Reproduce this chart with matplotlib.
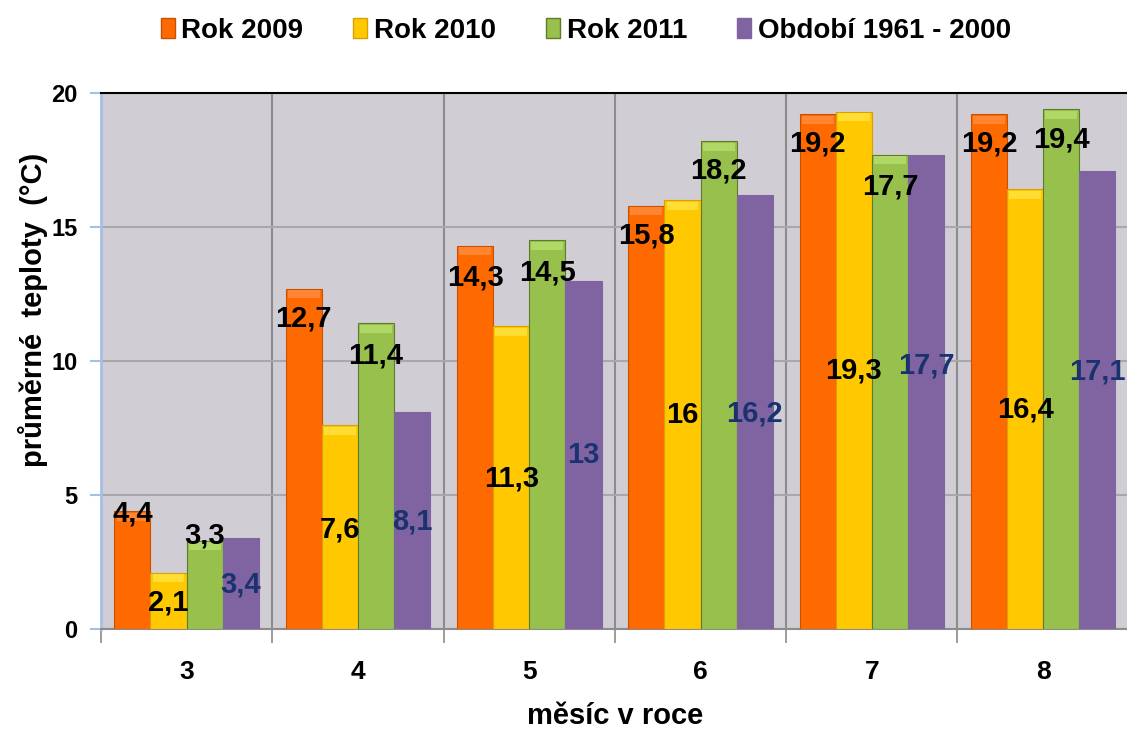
import numpy as np
import matplotlib
matplotlib.use('Agg')
import matplotlib.pyplot as plt
from matplotlib.patches import Patch

plt.rcParams['font.family'] = ['Liberation Sans', 'DejaVu Sans']
plt.rcParams['font.weight'] = 'bold'

# average temperatures per month
months = ['3', '4', '5', '6', '7', '8']
series_names = ['Rok 2009', 'Rok 2010', 'Rok 2011', 'Období 1961 - 2000']
t2009 = [4.4, 12.7, 14.3, 15.8, 19.2, 19.2]
t2010 = [2.1, 7.6, 11.3, 16.0, 19.3, 16.4]
t2011 = [3.3, 11.4, 14.5, 18.2, 17.7, 19.4]
t_norm = [3.4, 8.1, 13.0, 16.2, 17.7, 17.1]

# where each value label sits (in degrees)
lbl_2009 = [4.3, 11.6, 13.1, 14.7, 18.1, 18.1]
lbl_2010 = [1.0, 3.7, 5.6, 8.0, 9.65, 8.2]
lbl_2011 = [3.5, 10.2, 13.3, 17.1, 16.5, 18.25]
lbl_norm = [1.65, 4.0, 6.5, 8.05, 9.85, 9.6]

colors = ['#FF6A00', '#FFC800', '#98C04C', '#8064A2']
caps = ['#FF8533', '#FFDD33', '#B0D866', None]
edges = ['#C85000', '#D8A000', '#5E7A2C', '#8064A2']
text_cols = ['black', 'black', 'black', '#1A3370']


def fmt(v):
    s = ('%.1f' % v).rstrip('0').rstrip('.')
    return s.replace('.', ',')


fig = plt.figure(figsize=(11.27, 7.29), dpi=100)
ax = fig.add_axes([0.0896, 0.1372, 0.912, 0.7352])
ax.set_facecolor('#D0CED4')

x = np.arange(len(months))
w = 0.211
data = [t2009, t2010, t2011, t_norm]
lbls = [lbl_2009, lbl_2010, lbl_2011, lbl_norm]

for k in range(4):
    pos = x + (k - 1.5) * w
    ax.bar(pos, data[k], w, color=colors[k], edgecolor=edges[k], linewidth=0.8, zorder=3)
    if caps[k]:
        # lighter bevel on top of the bar
        ax.bar(pos, [0.3] * len(months), w * 0.88, bottom=np.array(data[k]) - 0.36,
               color=caps[k], linewidth=0, zorder=4)
    for i in range(len(months)):
        ax.text(pos[i], lbls[k][i], fmt(data[k][i]), ha='center', va='center',
                fontsize=21, fontweight='bold', color=text_cols[k], zorder=6)

ax.set_xlim(-0.5, len(months) - 0.5)
ax.set_ylim(0, 20)
ax.set_yticks([0, 5, 10, 15, 20])
ax.set_xticks(x)
ax.set_xticklabels(months)
ax.set_xticks(np.arange(len(months) + 1) - 0.5, minor=True)

ax.grid(axis='y', color='#A8A8A8', linewidth=1.5, zorder=1)
ax.grid(axis='x', which='minor', color='#8C8C8C', linewidth=1.5, zorder=1)

ax.tick_params(axis='y', length=8, width=1.5, color='#A4BFE8', labelsize=17, pad=9)
ax.tick_params(axis='x', which='major', length=0, labelsize=19, pad=22)
ax.tick_params(axis='x', which='minor', length=10, width=1.2, color='#8C8C8C')
for lab in ax.get_xticklabels() + ax.get_yticklabels():
    lab.set_fontweight('bold')

ax.spines['left'].set_color('#A4BFE8')
ax.spines['left'].set_linewidth(2)
ax.spines['top'].set_color('black')
ax.spines['top'].set_linewidth(1.5)
ax.spines['right'].set_visible(False)
ax.spines['bottom'].set_color('#8C8C8C')
ax.spines['bottom'].set_linewidth(1.5)

ax.set_xlabel('měsíc v roce', fontsize=21, fontweight='bold')
ax.xaxis.label.set_va('center')
ax.xaxis.set_label_coords(0.5, -0.162)
ax.set_ylabel('průměrné  teploty  (°C)', fontsize=21, fontweight='bold')
ax.yaxis.set_label_coords(-0.052, 0.595)

handles = [Patch(facecolor=colors[k], edgecolor=edges[k]) for k in range(4)]
fig.legend(handles, series_names, loc='center', bbox_to_anchor=(0.52, 0.958),
           ncol=4, frameon=False, handlelength=0.5, handleheight=0.7,
           handletextpad=0.25, columnspacing=1.8, prop={'weight': 'bold', 'size': 20})

fig.savefig('out.png', dpi=100)
